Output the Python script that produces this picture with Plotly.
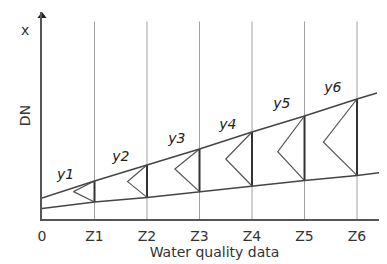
import plotly.graph_objects as go

# ---- data ----
tick_pos = [0, 1, 2, 3, 4, 5, 6]
tick_labels = ["0", "Z1", "Z2", "Z3", "Z4", "Z5", "Z6"]
z_pos = [1, 2, 3, 4, 5, 6]
seg_labels = ["<i>y1</i>", "<i>y2</i>", "<i>y3</i>", "<i>y4</i>", "<i>y5</i>", "<i>y6</i>"]

line_x = [0, 1, 2, 3, 4, 5, 6, 6.38]
upper_y = [1.05, 1.9, 2.7, 3.5, 4.35, 5.15, 6.0, 6.3]
lower_x = [0, 1, 2, 3, 4, 5, 6, 6.45]
lower_y = [0.52, 0.85, 1.08, 1.37, 1.65, 1.92, 2.18, 2.32]

upper_at_z = [1.9, 2.7, 3.5, 4.35, 5.15, 6.0]
lower_at_z = [0.85, 1.08, 1.37, 1.65, 1.92, 2.18]
vertex_x = [0.60, 1.63, 2.53, 3.50, 4.49, 5.36]
vertex_y = [1.37, 1.87, 2.50, 3.00, 3.37, 3.84]

label_x = [0.45, 1.50, 2.57, 3.54, 4.57, 5.54]
label_y = [2.20, 3.10, 4.00, 4.70, 5.75, 6.55]

grid_top = 9.875
x_max = 6.571
y_max = 10.35

line_col = "#444444"
grid_col = "#a0a0a0"
font_fam = "DejaVu Sans"

# page body has an 8px default margin: compensate
OFF = 8
L, T, B = 42 - OFF, 12 - OFF, 45
W, H = 387 - OFF, 264 - OFF

fig = go.Figure()

# vertical grid lines at Z positions
gx, gy = [], []
for z in z_pos:
    gx += [z, z, None]
    gy += [0, grid_top, None]
fig.add_trace(go.Scatter(x=gx, y=gy, mode="lines",
                         line=dict(color=grid_col, width=1), hoverinfo="skip"))

# dark segments between the two lines
sx, sy = [], []
for z, lo, up in zip(z_pos, lower_at_z, upper_at_z):
    sx += [z, z, None]
    sy += [lo, up, None]
fig.add_trace(go.Scatter(x=sx, y=sy, mode="lines",
                         line=dict(color="#333333", width=2), hoverinfo="skip"))

# "<" shapes
tx, ty = [], []
for z, lo, up, vx, vy in zip(z_pos, lower_at_z, upper_at_z, vertex_x, vertex_y):
    tx += [z, vx, z, None]
    ty += [up, vy, lo, None]
fig.add_trace(go.Scatter(x=tx, y=ty, mode="lines",
                         line=dict(color="#555555", width=1.2), hoverinfo="skip"))

# upper and lower lines
fig.add_trace(go.Scatter(x=line_x, y=upper_y, mode="lines",
                         line=dict(color=line_col, width=1.5), hoverinfo="skip"))
fig.add_trace(go.Scatter(x=lower_x, y=lower_y, mode="lines",
                         line=dict(color=line_col, width=1.5), hoverinfo="skip"))

# segment labels
fig.add_trace(go.Scatter(x=label_x, y=label_y, mode="text", text=seg_labels,
                         textfont=dict(family=font_fam, size=14, color="#222222"),
                         hoverinfo="skip"))

# axis arrowheads
fig.add_trace(go.Scatter(x=[0], y=[y_max - 0.2], mode="markers", cliponaxis=False,
                         marker=dict(symbol="triangle-up", size=8, color="#222222"),
                         hoverinfo="skip"))
fig.add_trace(go.Scatter(x=[x_max - 0.08], y=[0], mode="markers", cliponaxis=False,
                         marker=dict(symbol="triangle-right", size=8, color="#222222"),
                         hoverinfo="skip"))

fig.update_layout(
    width=W, height=H,
    margin=dict(l=L, r=0, t=T, b=B),
    paper_bgcolor="white", plot_bgcolor="white",
    showlegend=False,
    font=dict(family=font_fam, size=13, color="#333333"),
    xaxis=dict(range=[0, x_max], showgrid=False, zeroline=False, automargin=False,
               showline=True, linecolor="#555555", linewidth=2,
               tickvals=tick_pos, ticktext=tick_labels, ticks="",
               tickfont=dict(family=font_fam, size=14, color="#333333"),
               ticklabelstandoff=3,
               title=dict(text="Water quality data", standoff=2,
                          font=dict(family=font_fam, size=14, color="#333333"))),
    yaxis=dict(range=[0, y_max], showgrid=False, zeroline=False, automargin=False,
               showline=True, linecolor="#555555", linewidth=2,
               showticklabels=False, ticks="",
               title=dict(text="DN", standoff=6,
                          font=dict(family=font_fam, size=14, color="#333333"))),
    annotations=[dict(x=(25 - 42) / 345, y=(219 - 30) / 207, xref="paper", yref="paper",
                      xanchor="center", yanchor="middle",
                      text="x", showarrow=False,
                      font=dict(family=font_fam, size=14, color="#333333"))],
)

fig.write_html("out.html")
